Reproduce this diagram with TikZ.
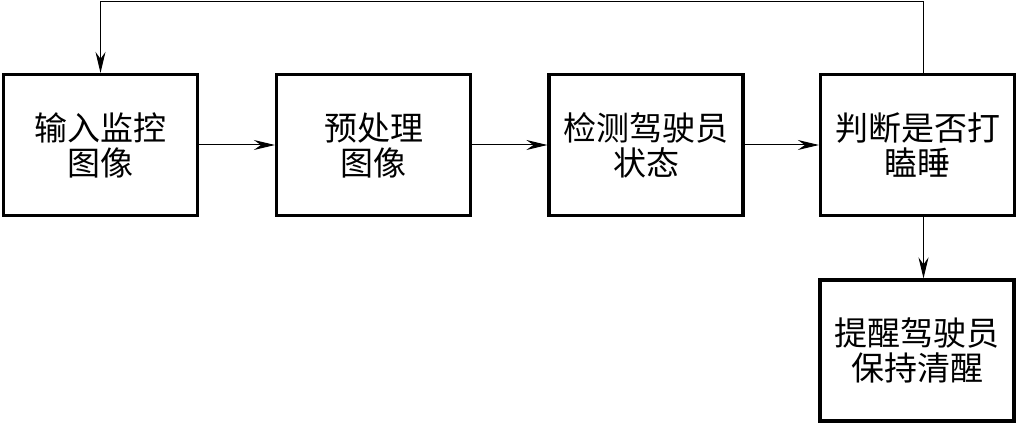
\documentclass[tikz,border=0pt]{standalone}
\usepackage{fontspec}
\setmainfont{Noto Sans CJK SC}
\usetikzlibrary{arrows.meta,calc}
\begin{document}
\begin{tikzpicture}[x=1pt,y=-1pt,
  box/.style={draw, line width=3.2pt, minimum width=194pt, minimum height=141pt,
    inner sep=0pt, align=center, font=\fontsize{33}{35}\selectfont},
  conn/.style={line width=1pt, -{Stealth[length=21pt,width=10pt,inset=7pt]}}]
\useasboundingbox (0,0) rectangle (1018,425);
\node[box] (b1) at (100.5,145) {输入监控\\图像};
\node[box] (b2) at (373.5,145) {预处理\\图像};
\node[box] (b3) at (646,145) {检测驾驶员\\状态};
\node[box] (b4) at (917.5,145) {判断是否打\\瞌睡};
\node[box] (b5) at (917,350.5) {提醒驾驶员\\保持清醒};
\draw[conn] (b1) -- (b2);
\draw[conn] (b2) -- (b3);
\draw[conn] (b3) -- (b4);
\draw[conn] ($(b4.south)+(6,0)$) -- ($(b5.north)+(6.5,0)$);
\draw[conn] ($(b4.north)+(5.5,0)$) |- ($(b1.north)+(0,-71.5)$) -- (b1.north);
\end{tikzpicture}
\end{document}
